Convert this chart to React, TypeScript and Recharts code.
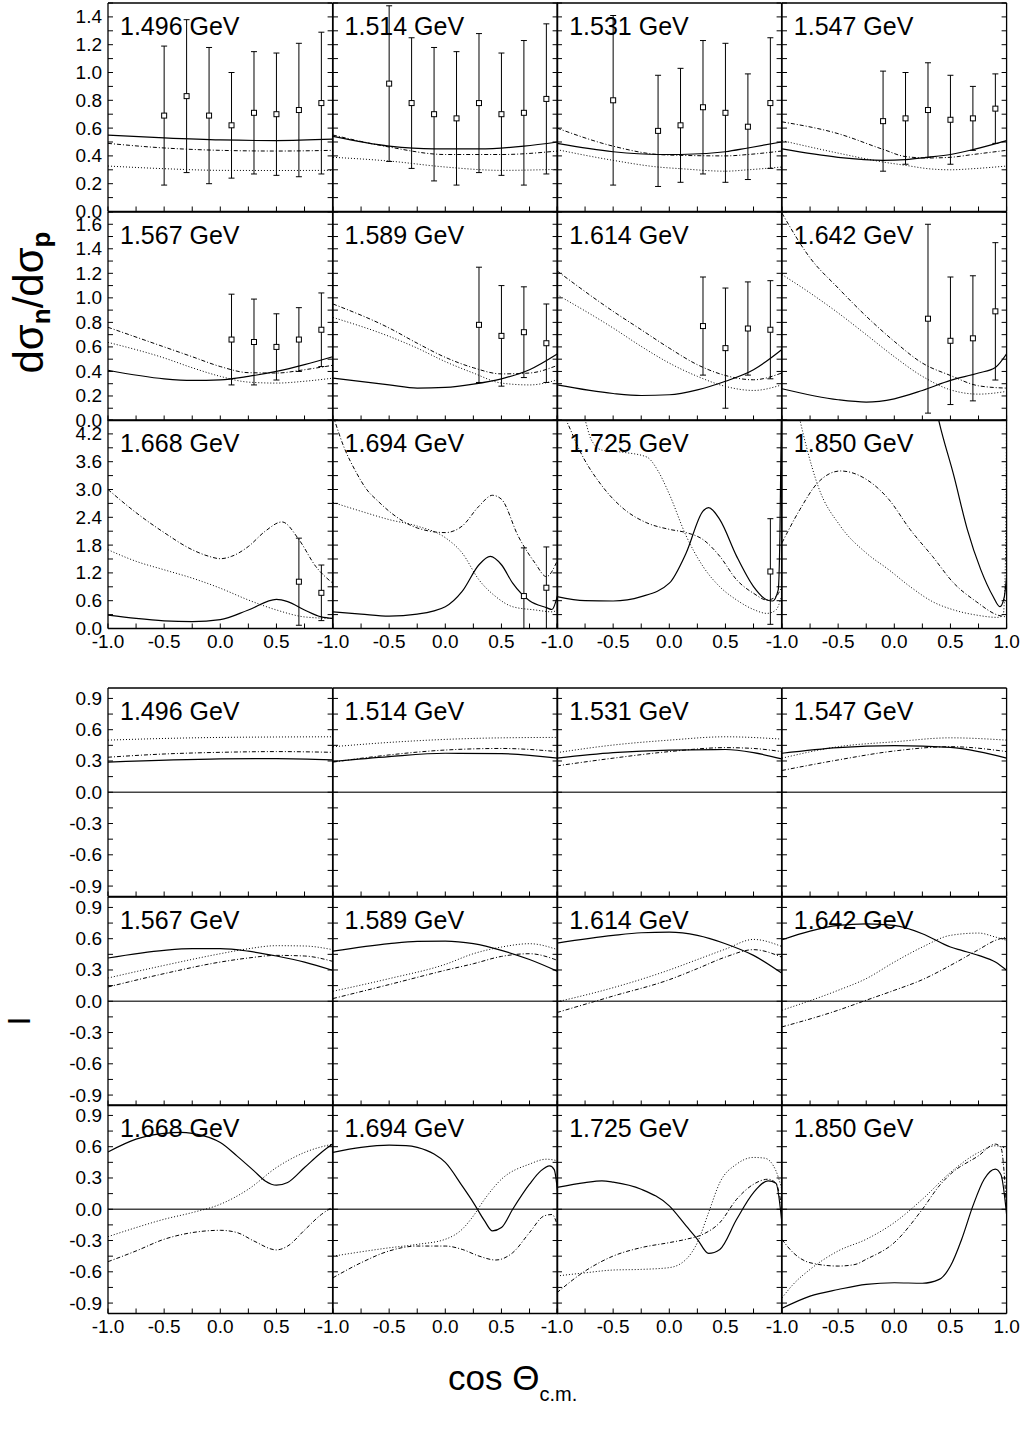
import React from 'react';
import { ComposedChart, Line, Scatter, XAxis, YAxis, ErrorBar, ReferenceLine } from 'recharts';

type Pairs = [number, number][];
type Err = number | [number, number];

// ---------- labels & ticks ----------
const ENERGIES = ['1.496', '1.514', '1.531', '1.547', '1.567', '1.589', '1.614', '1.642', '1.668', '1.694', '1.725', '1.850'];
const X_TICKS = [-1, -0.75, -0.5, -0.25, 0, 0.25, 0.5, 0.75, 1];
const X_LABELS = [-1, -0.5, 0, 0.5, 1];
const R1_TICKS = [0, 0.1, 0.2, 0.3, 0.4, 0.5, 0.6, 0.7, 0.8, 0.9, 1.0, 1.1, 1.2, 1.3, 1.4, 1.5];
const R1_LABELS = [0, 0.2, 0.4, 0.6, 0.8, 1.0, 1.2, 1.4];
const R2_TICKS = [0, 0.1, 0.2, 0.3, 0.4, 0.5, 0.6, 0.7, 0.8, 0.9, 1.0, 1.1, 1.2, 1.3, 1.4, 1.5, 1.6, 1.7];
const R2_LABELS = [0, 0.2, 0.4, 0.6, 0.8, 1.0, 1.2, 1.4, 1.6];
const R3_TICKS = [0, 0.3, 0.6, 0.9, 1.2, 1.5, 1.8, 2.1, 2.4, 2.7, 3.0, 3.3, 3.6, 3.9, 4.2, 4.5];
const R3_LABELS = [0, 0.6, 1.2, 1.8, 2.4, 3.0, 3.6, 4.2];
const A_TICKS = [-0.9, -0.75, -0.6, -0.45, -0.3, -0.15, 0, 0.15, 0.3, 0.45, 0.6, 0.75, 0.9];
const A_LABELS = [-0.9, -0.6, -0.3, 0, 0.3, 0.6, 0.9];

// ---------- dσn/dσp : model curves and data ----------
const R1496_SOLID: Pairs = [[-1, 0.55], [-0.5, 0.53], [0, 0.515], [0.5, 0.51], [1, 0.52]];
const R1496_DASHDOT: Pairs = [[-1, 0.49], [-0.5, 0.457], [0, 0.44], [0.5, 0.435], [1, 0.44]];
const R1496_DOTTED: Pairs = [[-1, 0.327], [-0.5, 0.308], [0, 0.296], [0.5, 0.295], [1, 0.296]];
const R1496_PX = [-0.5, -0.3, -0.1, 0.1, 0.3, 0.5, 0.7, 0.9];
const R1496_PY = [0.69, 0.83, 0.69, 0.62, 0.71, 0.7, 0.73, 0.78];
const R1496_ERR: Err[] = [0.5, 0.55, 0.49, 0.38, 0.44, 0.44, 0.48, 0.51];

const R1514_SOLID: Pairs = [[-1, 0.54], [-0.5, 0.47], [-0.1, 0.45], [0.3, 0.45], [0.7, 0.47], [1, 0.5]];
const R1514_DASHDOT: Pairs = [[-1, 0.55], [-0.5, 0.464], [0, 0.41], [0.5, 0.41], [1, 0.435]];
const R1514_DOTTED: Pairs = [[-1, 0.39], [-0.5, 0.363], [0, 0.32], [0.5, 0.296], [1, 0.303]];
const R1514_PX = [-0.5, -0.3, -0.1, 0.1, 0.3, 0.5, 0.7, 0.9];
const R1514_PY = [0.92, 0.78, 0.7, 0.67, 0.78, 0.7, 0.71, 0.81];
const R1514_ERR: Err[] = [0.56, 0.47, 0.48, 0.48, 0.5, 0.44, 0.52, 0.54];

const R1531_SOLID: Pairs = [[-1, 0.49], [-0.5, 0.43], [-0.1, 0.41], [0.1, 0.41], [0.5, 0.43], [0.7, 0.457], [1, 0.5]];
const R1531_DASHDOT: Pairs = [[-1, 0.6], [-0.5, 0.47], [-0.1, 0.41], [0.1, 0.404], [0.5, 0.4], [0.7, 0.41], [1, 0.435]];
const R1531_DOTTED: Pairs = [[-1, 0.445], [-0.5, 0.368], [-0.1, 0.32], [0.1, 0.308], [0.5, 0.29], [0.7, 0.3], [1, 0.32]];
const R1531_PX = [-0.5, -0.1, 0.1, 0.3, 0.5, 0.7, 0.9];
const R1531_PY = [0.8, 0.58, 0.62, 0.75, 0.71, 0.61, 0.78];
const R1531_ERR: Err[] = [0.61, 0.4, 0.41, 0.48, 0.5, 0.38, 0.47];

const R1547_SOLID: Pairs = [[-1, 0.45], [-0.5, 0.39], [-0.1, 0.368], [0.1, 0.373], [0.3, 0.39], [0.5, 0.41], [0.7, 0.445], [1, 0.51]];
const R1547_DASHDOT: Pairs = [[-1, 0.645], [-0.5, 0.56], [-0.1, 0.447], [0.1, 0.395], [0.3, 0.385], [0.5, 0.39], [0.7, 0.41], [1, 0.44]];
const R1547_DOTTED: Pairs = [[-1, 0.51], [-0.5, 0.42], [-0.1, 0.356], [0.1, 0.332], [0.3, 0.308], [0.5, 0.3], [0.7, 0.308], [1, 0.327]];
const R1547_PX = [-0.1, 0.1, 0.3, 0.5, 0.7, 0.9];
const R1547_PY = [0.65, 0.67, 0.73, 0.66, 0.67, 0.74];
const R1547_ERR: Err[] = [0.36, 0.33, 0.34, 0.32, 0.23, 0.25];

const R1567_SOLID: Pairs = [[-1, 0.41], [-0.5, 0.34], [-0.25, 0.327], [0, 0.332], [0.25, 0.36], [0.5, 0.4], [0.75, 0.455], [1, 0.52]];
const R1567_DASHDOT: Pairs = [[-1, 0.76], [-0.5, 0.6], [-0.25, 0.52], [0, 0.44], [0.25, 0.39], [0.5, 0.387], [0.75, 0.414], [1, 0.45]];
const R1567_DOTTED: Pairs = [[-1, 0.637], [-0.5, 0.51], [-0.25, 0.43], [0, 0.36], [0.25, 0.313], [0.5, 0.305], [0.75, 0.32], [1, 0.345]];
const R1567_PX = [0.1, 0.3, 0.5, 0.7, 0.9];
const R1567_PY = [0.66, 0.64, 0.6, 0.66, 0.74];
const R1567_ERR: Err[] = [0.37, 0.35, 0.27, 0.26, 0.3];

const R1589_SOLID: Pairs = [[-1, 0.346], [-0.5, 0.29], [-0.25, 0.264], [0, 0.27], [0.25, 0.297], [0.5, 0.34], [0.75, 0.414], [1, 0.544]];
const R1589_DASHDOT: Pairs = [[-1, 0.95], [-0.5, 0.754], [-0.25, 0.63], [0, 0.515], [0.25, 0.43], [0.5, 0.38], [0.75, 0.387], [1, 0.45]];
const R1589_DOTTED: Pairs = [[-1, 0.84], [-0.5, 0.686], [-0.25, 0.59], [0, 0.48], [0.25, 0.387], [0.5, 0.305], [0.75, 0.29], [1, 0.332]];
const R1589_PX = [0.3, 0.5, 0.7, 0.9];
const R1589_PY = [0.78, 0.69, 0.72, 0.63];
const R1589_ERR: Err[] = [0.47, 0.41, 0.37, 0.32];

const R1614_SOLID: Pairs = [[-1, 0.29], [-0.5, 0.22], [-0.25, 0.204], [0, 0.21], [0.25, 0.25], [0.5, 0.32], [0.75, 0.414], [1, 0.577]];
const R1614_DASHDOT: Pairs = [[-1, 1.22], [-0.5, 0.89], [-0.25, 0.74], [0, 0.59], [0.25, 0.455], [0.5, 0.367], [0.75, 0.332], [1, 0.387]];
const R1614_DOTTED: Pairs = [[-1, 1.026], [-0.5, 0.754], [-0.25, 0.604], [0, 0.468], [0.25, 0.36], [0.5, 0.278], [0.75, 0.245], [1, 0.29]];
const R1614_PX = [0.3, 0.5, 0.7, 0.9];
const R1614_PY = [0.77, 0.59, 0.75, 0.74];
const R1614_ERR: Err[] = [0.4, 0.49, 0.38, 0.4];

const R1642_SOLID: Pairs = [[-1, 0.259], [-0.5, 0.169], [-0.25, 0.15], [0, 0.177], [0.25, 0.245], [0.5, 0.327], [0.75, 0.387], [0.9, 0.433], [1, 0.544]];
const R1642_DASHDOT: Pairs = [[-1, 1.69], [-0.75, 1.326], [-0.5, 1.08], [-0.25, 0.85], [0, 0.645], [0.25, 0.468], [0.5, 0.367], [0.75, 0.283], [1, 0.264]];
const R1642_DOTTED: Pairs = [[-1, 1.19], [-0.75, 1.04], [-0.5, 0.877], [-0.25, 0.7], [0, 0.52], [0.25, 0.36], [0.5, 0.25], [0.75, 0.215], [1, 0.237]];
const R1642_PX = [0.3, 0.5, 0.7, 0.9];
const R1642_PY = [0.83, 0.65, 0.67, 0.89];
const R1642_ERR: Err[] = [0.77, 0.52, 0.51, 0.56];

const R1668_SOLID: Pairs = [[-1, 0.29], [-0.75, 0.217], [-0.5, 0.166], [-0.25, 0.15], [0, 0.19], [0.25, 0.4], [0.5, 0.63], [0.6, 0.58], [0.75, 0.4], [0.9, 0.25], [1, 0.217]];
const R1668_DASHDOT: Pairs = [[-1, 3.0], [-0.75, 2.5], [-0.5, 2.07], [-0.25, 1.7], [-0.1, 1.557], [0, 1.506], [0.1, 1.557], [0.25, 1.77], [0.4, 2.1], [0.55, 2.3], [0.7, 1.92], [0.85, 1.34], [1, 0.98]];
const R1668_DOTTED: Pairs = [[-1, 1.7], [-0.75, 1.45], [-0.5, 1.267], [-0.25, 1.087], [0, 0.87], [0.25, 0.615], [0.5, 0.4], [0.75, 0.25], [1, 0.217]];
const R1668_PX = [0.7, 0.9];
const R1668_PY = [1.01, 0.77];
const R1668_ERR: Err[] = [0.94, 0.6];

const R1694_SOLID: Pairs = [[-1, 0.36], [-0.75, 0.31], [-0.5, 0.267], [-0.25, 0.31], [0, 0.47], [0.15, 0.8], [0.3, 1.376], [0.4, 1.557], [0.5, 1.376], [0.6, 0.978], [0.75, 0.6], [0.9, 0.45], [0.95, 0.41], [1, 0.72]];
const R1694_DASHDOT: Pairs = [[-1, 4.6], [-0.9, 3.9], [-0.8, 3.4], [-0.7, 3.0], [-0.6, 2.75], [-0.5, 2.53], [-0.25, 2.17], [0, 2.07], [0.15, 2.21], [0.3, 2.64], [0.42, 2.875], [0.5, 2.79], [0.65, 1.99], [0.8, 1.41], [0.9, 1.12], [1, 1.48]];
const R1694_DOTTED: Pairs = [[-1, 2.72], [-0.75, 2.53], [-0.5, 2.35], [-0.25, 2.21], [0, 1.96], [0.15, 1.63], [0.3, 1.05], [0.45, 0.687], [0.6, 0.47], [0.8, 0.4], [0.95, 0.36], [1, 0.4]];
const R1694_PX = [0.7, 0.9];
const R1694_PY = [0.7, 0.88];
const R1694_ERR: Err[] = [[0.7, 1.04], [0.88, 0.88]];

const R1725_SOLID: Pairs = [[-1, 0.687], [-0.75, 0.6], [-0.5, 0.593], [-0.25, 0.687], [0, 0.978], [0.15, 1.63], [0.3, 2.535], [0.35, 2.61], [0.45, 2.35], [0.6, 1.557], [0.75, 0.905], [0.87, 0.615], [0.92, 0.593], [0.97, 0.833], [0.985, 2.0], [1, 5.0]];
const R1725_DASHDOT: Pairs = [[-1, 4.9], [-0.9, 4.4], [-0.8, 3.85], [-0.6, 3.08], [-0.4, 2.57], [-0.2, 2.28], [0, 2.14], [0.15, 2.07], [0.3, 1.92], [0.45, 1.557], [0.6, 1.05], [0.75, 0.76], [0.87, 0.615], [0.95, 0.687], [1, 0.9]];
const R1725_DOTTED: Pairs = [[-1, 5.5], [-0.85, 5.0], [-0.75, 4.5], [-0.7, 4.1], [-0.6, 3.85], [-0.4, 3.8], [-0.2, 3.7], [-0.1, 3.4], [0, 2.9], [0.15, 2.0], [0.3, 1.34], [0.45, 0.9], [0.6, 0.615], [0.75, 0.41], [0.87, 0.326], [0.95, 0.4], [1, 0.7]];
const R1725_PX = [0.9];
const R1725_PY = [1.23];
const R1725_ERR: Err[] = [1.14];

const R1850_SOLID: Pairs = [[-1, 30], [0, 11], [0.2, 7], [0.3, 5.6], [0.4, 4.45], [0.53, 3.3], [0.65, 2.14], [0.77, 1.27], [0.88, 0.69], [0.94, 0.47], [0.98, 0.69], [1, 1.12]];
const R1850_DASHDOT: Pairs = [[-1, 1.85], [-0.84, 2.57], [-0.68, 3.15], [-0.48, 3.4], [-0.25, 3.22], [-0.05, 2.79], [0.14, 2.14], [0.34, 1.557], [0.53, 0.978], [0.73, 0.58], [0.92, 0.29], [1, 0.25]];
const R1850_DOTTED: Pairs = [[-1, 6.5], [-0.9, 5.2], [-0.84, 4.5], [-0.78, 3.9], [-0.68, 3.08], [-0.48, 2.21], [-0.25, 1.63], [-0.05, 1.27], [0.14, 0.905], [0.34, 0.58], [0.53, 0.4], [0.73, 0.29], [0.92, 0.24], [0.97, 0.3], [0.99, 1.5], [1, 5]];

// ---------- I (asymmetry) : model curves ----------
const A1496_SOLID: Pairs = [[-1, 0.289], [0, 0.32], [0.5, 0.323], [1, 0.31]];
const A1496_DASHDOT: Pairs = [[-1, 0.336], [-0.5, 0.367], [0, 0.383], [0.5, 0.39], [1, 0.383]];
const A1496_DOTTED: Pairs = [[-1, 0.5], [-0.5, 0.516], [0, 0.526], [0.5, 0.53], [1, 0.532]];

const A1514_SOLID: Pairs = [[-1, 0.295], [-0.5, 0.342], [0, 0.374], [0.5, 0.37], [1, 0.327]];
const A1514_DASHDOT: Pairs = [[-1, 0.289], [-0.5, 0.358], [0, 0.405], [0.5, 0.42], [1, 0.39]];
const A1514_DOTTED: Pairs = [[-1, 0.437], [-0.5, 0.478], [0, 0.507], [0.5, 0.522], [1, 0.526]];

const A1531_SOLID: Pairs = [[-1, 0.327], [-0.5, 0.38], [0, 0.405], [0.5, 0.41], [0.75, 0.38], [1, 0.32]];
const A1531_DASHDOT: Pairs = [[-1, 0.253], [-0.5, 0.327], [0, 0.39], [0.5, 0.428], [0.75, 0.42], [1, 0.39]];
const A1531_DOTTED: Pairs = [[-1, 0.38], [-0.5, 0.453], [0, 0.5], [0.5, 0.532], [1, 0.51]];

const A1547_SOLID: Pairs = [[-1, 0.374], [-0.5, 0.428], [0, 0.447], [0.5, 0.43], [0.75, 0.39], [1, 0.327]];
const A1547_DASHDOT: Pairs = [[-1, 0.209], [-0.5, 0.31], [0, 0.396], [0.5, 0.437], [1, 0.39]];
const A1547_DOTTED: Pairs = [[-1, 0.327], [-0.5, 0.437], [0, 0.484], [0.5, 0.522], [1, 0.5]];

const A1567_SOLID: Pairs = [[-1, 0.415], [-0.5, 0.488], [-0.25, 0.504], [0, 0.504], [0.25, 0.48], [0.5, 0.434], [0.75, 0.376], [1, 0.297]];
const A1567_DASHDOT: Pairs = [[-1, 0.137], [-0.5, 0.265], [0, 0.376], [0.25, 0.415], [0.5, 0.44], [0.75, 0.434], [1, 0.383]];
const A1567_DOTTED: Pairs = [[-1, 0.223], [-0.5, 0.344], [0, 0.456], [0.25, 0.504], [0.5, 0.533], [0.75, 0.53], [1, 0.495]];

const A1589_SOLID: Pairs = [[-1, 0.48], [-0.5, 0.552], [-0.25, 0.574], [0, 0.577], [0.25, 0.552], [0.5, 0.488], [0.75, 0.4], [1, 0.287]];
const A1589_DASHDOT: Pairs = [[-1, 0.026], [-0.5, 0.16], [0, 0.297], [0.25, 0.36], [0.5, 0.43], [0.75, 0.456], [1, 0.392]];
const A1589_DOTTED: Pairs = [[-1, 0.096], [-0.5, 0.217], [0, 0.354], [0.25, 0.456], [0.5, 0.52], [0.75, 0.552], [1, 0.495]];

const A1614_SOLID: Pairs = [[-1, 0.558], [-0.5, 0.632], [-0.25, 0.657], [0, 0.663], [0.25, 0.632], [0.5, 0.552], [0.75, 0.44], [1, 0.27]];
const A1614_DASHDOT: Pairs = [[-1, -0.108], [-0.5, 0.05], [0, 0.207], [0.25, 0.313], [0.5, 0.424], [0.75, 0.495], [1, 0.424]];
const A1614_DOTTED: Pairs = [[-1, -0.006], [-0.5, 0.13], [0, 0.3], [0.25, 0.4], [0.5, 0.5], [0.75, 0.593], [1, 0.526]];

const A1642_SOLID: Pairs = [[-1, 0.59], [-0.75, 0.673], [-0.5, 0.727], [-0.25, 0.743], [0, 0.727], [0.25, 0.648], [0.5, 0.52], [0.6, 0.488], [0.75, 0.44], [0.9, 0.376], [1, 0.297]];
const A1642_DASHDOT: Pairs = [[-1, -0.246], [-0.5, -0.086], [-0.25, 0.01], [0, 0.105], [0.25, 0.207], [0.5, 0.344], [0.75, 0.495], [0.9, 0.584], [1, 0.616]];
const A1642_DOTTED: Pairs = [[-1, -0.086], [-0.5, 0.105], [-0.25, 0.217], [0, 0.376], [0.25, 0.52], [0.5, 0.632], [0.75, 0.654], [0.9, 0.616], [1, 0.584]];

const A1668_SOLID: Pairs = [[-1, 0.55], [-0.75, 0.673], [-0.5, 0.728], [-0.35, 0.737], [-0.25, 0.728], [-0.1, 0.689], [0, 0.64], [0.15, 0.51], [0.3, 0.368], [0.4, 0.272], [0.5, 0.231], [0.6, 0.257], [0.75, 0.4], [0.9, 0.545], [1, 0.625]];
const A1668_DASHDOT: Pairs = [[-1, -0.503], [-0.75, -0.4], [-0.5, -0.288], [-0.25, -0.224], [0, -0.202], [0.15, -0.224], [0.3, -0.305], [0.5, -0.39], [0.6, -0.353], [0.75, -0.2], [0.9, -0.05], [1, 0.02]];
const A1668_DOTTED: Pairs = [[-1, -0.263], [-0.75, -0.176], [-0.5, -0.096], [-0.25, -0.032], [0, 0.048], [0.25, 0.192], [0.5, 0.4], [0.75, 0.545], [1, 0.625]];

const A1694_SOLID: Pairs = [[-1, 0.545], [-0.75, 0.593], [-0.5, 0.615], [-0.35, 0.61], [-0.25, 0.593], [-0.1, 0.529], [0, 0.449], [0.15, 0.224], [0.25, 0.064], [0.35, -0.112], [0.42, -0.208], [0.5, -0.176], [0.6, 0], [0.75, 0.24], [0.85, 0.368], [0.93, 0.416], [0.97, 0.38], [1, 0.17]];
const A1694_DASHDOT: Pairs = [[-1, -0.657], [-0.75, -0.513], [-0.5, -0.4], [-0.25, -0.353], [0, -0.353], [0.15, -0.385], [0.3, -0.449], [0.45, -0.487], [0.6, -0.417], [0.75, -0.224], [0.88, -0.064], [0.95, -0.05], [1, -0.16]];
const A1694_DOTTED: Pairs = [[-1, -0.45], [-0.5, -0.37], [-0.25, -0.337], [0, -0.288], [0.15, -0.192], [0.25, -0.064], [0.35, 0.096], [0.5, 0.288], [0.75, 0.433], [0.9, 0.48], [1, 0.465]];

const A1725_SOLID: Pairs = [[-1, 0.21], [-0.75, 0.256], [-0.6, 0.272], [-0.5, 0.26], [-0.25, 0.192], [0, 0.032], [0.15, -0.16], [0.25, -0.288], [0.35, -0.423], [0.45, -0.385], [0.6, -0.096], [0.75, 0.16], [0.88, 0.272], [0.95, 0.25], [1, -0.1]];
const A1725_DASHDOT: Pairs = [[-1, -0.8], [-0.75, -0.593], [-0.5, -0.449], [-0.25, -0.368], [0, -0.32], [0.15, -0.288], [0.3, -0.24], [0.45, -0.128], [0.6, 0.096], [0.75, 0.24], [0.88, 0.288], [0.95, 0.25], [1, 0.03]];
const A1725_DOTTED: Pairs = [[-1, -0.64], [-0.75, -0.61], [-0.5, -0.583], [-0.25, -0.577], [0, -0.56], [0.15, -0.48], [0.25, -0.32], [0.35, -0.032], [0.45, 0.256], [0.6, 0.433], [0.75, 0.497], [0.85, 0.49], [0.95, 0.368], [1, 0.2]];

const A1850_SOLID: Pairs = [[-1, -0.95], [-0.75, -0.833], [-0.5, -0.77], [-0.25, -0.72], [0, -0.705], [0.25, -0.71], [0.4, -0.673], [0.5, -0.545], [0.6, -0.288], [0.7, 0.032], [0.8, 0.288], [0.9, 0.385], [0.95, 0.33], [1, -0.05]];
const A1850_DASHDOT: Pairs = [[-1, -0.29], [-0.9, -0.417], [-0.75, -0.513], [-0.5, -0.545], [-0.35, -0.53], [-0.25, -0.48], [0, -0.32], [0.25, 0], [0.4, 0.224], [0.5, 0.337], [0.75, 0.513], [0.9, 0.625], [0.95, 0.59], [1, 0.0]];
const A1850_DOTTED: Pairs = [[-1, -0.85], [-0.9, -0.72], [-0.75, -0.577], [-0.5, -0.4], [-0.25, -0.288], [0, -0.128], [0.25, 0.096], [0.5, 0.353], [0.75, 0.545], [0.9, 0.609], [0.95, 0.6], [1, 0.58]];

// ---------- tables built from the arrays ----------
type PanelCfg = { solid: Pairs; dashdot: Pairs; dotted: Pairs; px?: number[]; py?: number[]; err?: Err[] };

const RATIO_PANELS: PanelCfg[] = [
  { solid: R1496_SOLID, dashdot: R1496_DASHDOT, dotted: R1496_DOTTED, px: R1496_PX, py: R1496_PY, err: R1496_ERR },
  { solid: R1514_SOLID, dashdot: R1514_DASHDOT, dotted: R1514_DOTTED, px: R1514_PX, py: R1514_PY, err: R1514_ERR },
  { solid: R1531_SOLID, dashdot: R1531_DASHDOT, dotted: R1531_DOTTED, px: R1531_PX, py: R1531_PY, err: R1531_ERR },
  { solid: R1547_SOLID, dashdot: R1547_DASHDOT, dotted: R1547_DOTTED, px: R1547_PX, py: R1547_PY, err: R1547_ERR },
  { solid: R1567_SOLID, dashdot: R1567_DASHDOT, dotted: R1567_DOTTED, px: R1567_PX, py: R1567_PY, err: R1567_ERR },
  { solid: R1589_SOLID, dashdot: R1589_DASHDOT, dotted: R1589_DOTTED, px: R1589_PX, py: R1589_PY, err: R1589_ERR },
  { solid: R1614_SOLID, dashdot: R1614_DASHDOT, dotted: R1614_DOTTED, px: R1614_PX, py: R1614_PY, err: R1614_ERR },
  { solid: R1642_SOLID, dashdot: R1642_DASHDOT, dotted: R1642_DOTTED, px: R1642_PX, py: R1642_PY, err: R1642_ERR },
  { solid: R1668_SOLID, dashdot: R1668_DASHDOT, dotted: R1668_DOTTED, px: R1668_PX, py: R1668_PY, err: R1668_ERR },
  { solid: R1694_SOLID, dashdot: R1694_DASHDOT, dotted: R1694_DOTTED, px: R1694_PX, py: R1694_PY, err: R1694_ERR },
  { solid: R1725_SOLID, dashdot: R1725_DASHDOT, dotted: R1725_DOTTED, px: R1725_PX, py: R1725_PY, err: R1725_ERR },
  { solid: R1850_SOLID, dashdot: R1850_DASHDOT, dotted: R1850_DOTTED },
];

const ASYM_PANELS: PanelCfg[] = [
  { solid: A1496_SOLID, dashdot: A1496_DASHDOT, dotted: A1496_DOTTED },
  { solid: A1514_SOLID, dashdot: A1514_DASHDOT, dotted: A1514_DOTTED },
  { solid: A1531_SOLID, dashdot: A1531_DASHDOT, dotted: A1531_DOTTED },
  { solid: A1547_SOLID, dashdot: A1547_DASHDOT, dotted: A1547_DOTTED },
  { solid: A1567_SOLID, dashdot: A1567_DASHDOT, dotted: A1567_DOTTED },
  { solid: A1589_SOLID, dashdot: A1589_DASHDOT, dotted: A1589_DOTTED },
  { solid: A1614_SOLID, dashdot: A1614_DASHDOT, dotted: A1614_DOTTED },
  { solid: A1642_SOLID, dashdot: A1642_DASHDOT, dotted: A1642_DOTTED },
  { solid: A1668_SOLID, dashdot: A1668_DASHDOT, dotted: A1668_DOTTED },
  { solid: A1694_SOLID, dashdot: A1694_DASHDOT, dotted: A1694_DOTTED },
  { solid: A1725_SOLID, dashdot: A1725_DASHDOT, dotted: A1725_DOTTED },
  { solid: A1850_SOLID, dashdot: A1850_DASHDOT, dotted: A1850_DOTTED },
];

type RowCfg = { domain: [number, number]; ticks: number[]; labels: number[] };
const RATIO_ROWS: RowCfg[] = [
  { domain: [0, 1.5], ticks: R1_TICKS, labels: R1_LABELS },
  { domain: [0, 1.7], ticks: R2_TICKS, labels: R2_LABELS },
  { domain: [0, 4.5], ticks: R3_TICKS, labels: R3_LABELS },
];
const ASYM_ROWS: RowCfg[] = [
  { domain: [-1, 1], ticks: A_TICKS, labels: A_LABELS },
  { domain: [-1, 1], ticks: A_TICKS, labels: A_LABELS },
  { domain: [-1, 1], ticks: A_TICKS, labels: A_LABELS },
];

// ---------- layout ----------
const FONT = '"Liberation Sans", Arial, Helvetica, sans-serif';
const TICK_FS = 19;
const PW = 224.6;
const PH = 208.5;
const COL0 = 108;
const TOP_BLOCK = 3;
const BOTTOM_BLOCK = 688.3;
const M = 20;
const YW = 70;
const XH = 26;
const TL = 5; // inward tick length
const AXIS = { stroke: '#000', strokeWidth: 1.3 };

const toXY = (p: Pairs) => p.map(([x, y]) => ({ x, y }));
const hasVal = (arr: number[], v: number) => arr.some((a) => Math.abs(a - v) < 1e-9);

const Square = (props: any) => {
  const { cx, cy } = props;
  if (cx == null || cy == null) return null;
  return <rect x={cx - 2.5} y={cy - 2.5} width={5} height={5} fill="#fff" stroke="#000" strokeWidth={1} />;
};

// custom tick renderers: inward tick mark + optional label
const bottomTick = (labels: number[] | null, col: number) => (props: any) => {
  const { x, y, payload } = props;
  const v = payload.value as number;
  const showLabel = labels && hasVal(labels, v) && !(v === 1 && col < 3);
  return (
    <g>
      <line x1={x} y1={y} x2={x} y2={y - TL} stroke="#000" strokeWidth={1} />
      {showLabel && (
        <text x={x} y={y + 20} textAnchor="middle" fontSize={TICK_FS} fontFamily={FONT} fill="#000">
          {v.toFixed(1)}
        </text>
      )}
    </g>
  );
};
const topTick = (props: any) => {
  const { x, y } = props;
  return <line x1={x} y1={y} x2={x} y2={y + TL} stroke="#000" strokeWidth={1} />;
};
const leftTick = (labels: number[] | null) => (props: any) => {
  const { x, y, payload } = props;
  const v = payload.value as number;
  const showLabel = labels && hasVal(labels, v);
  return (
    <g>
      <line x1={x} y1={y} x2={x + TL} y2={y} stroke="#000" strokeWidth={1} />
      {showLabel && (
        <text x={x - 6} y={y + 6.5} textAnchor="end" fontSize={TICK_FS} fontFamily={FONT} fill="#000">
          {v.toFixed(1)}
        </text>
      )}
    </g>
  );
};
const rightTick = (props: any) => {
  const { x, y } = props;
  return <line x1={x} y1={y} x2={x - TL} y2={y} stroke="#000" strokeWidth={1} />;
};

function Panel({ blockTop, row, col, cfg, rowCfg, zero }: { blockTop: number; row: number; col: number; cfg: PanelCfg; rowCfg: RowCfg; zero: boolean }) {
  const lastRow = row === 2;
  const firstCol = col === 0;
  const plotLeft = COL0 + col * PW;
  const plotTop = blockTop + row * PH;
  const extraL = firstCol ? YW : 0;
  const extraB = lastRow ? XH : 0;
  const width = PW + 2 * M + extraL;
  const height = PH + 2 * M + extraB;
  const pts = cfg.px ? cfg.px.map((x, i) => ({ x, y: cfg.py![i], e: cfg.err![i] })) : null;
  return (
    <div style={{ position: 'absolute', left: plotLeft - M - extraL, top: plotTop - M, width, height }}>
      <ComposedChart width={width} height={height} margin={{ top: M, right: M, bottom: M + extraB, left: M + extraL }}>
        <XAxis xAxisId="x" dataKey="x" type="number" domain={[-1, 1]} allowDataOverflow ticks={X_TICKS} orientation="bottom" mirror tickSize={0} tickMargin={0} axisLine={AXIS} tickLine={false} interval={0} tick={bottomTick(lastRow ? X_LABELS : null, col)} />
        <XAxis xAxisId="xt" type="number" domain={[-1, 1]} allowDataOverflow ticks={X_TICKS} orientation="top" mirror tickSize={0} tickMargin={0} axisLine={AXIS} tickLine={false} interval={0} tick={topTick} />
        <YAxis yAxisId="y" type="number" domain={rowCfg.domain} allowDataOverflow ticks={rowCfg.ticks} orientation="left" mirror tickSize={0} tickMargin={0} axisLine={AXIS} tickLine={false} interval={0} tick={leftTick(firstCol ? rowCfg.labels : null)} />
        <YAxis yAxisId="yr" type="number" domain={rowCfg.domain} allowDataOverflow ticks={rowCfg.ticks} orientation="right" mirror tickSize={0} tickMargin={0} axisLine={AXIS} tickLine={false} interval={0} tick={rightTick} />
        {zero && <ReferenceLine xAxisId="x" yAxisId="y" y={0} stroke="#444" strokeWidth={1.6} />}
        <Line xAxisId="x" yAxisId="y" data={toXY(cfg.solid)} dataKey="y" type="monotone" dot={false} activeDot={false} stroke="#000" strokeWidth={1.2} isAnimationActive={false} />
        <Line xAxisId="x" yAxisId="y" data={toXY(cfg.dashdot)} dataKey="y" type="monotone" dot={false} activeDot={false} stroke="#000" strokeWidth={1} strokeDasharray="4 2 1 2" isAnimationActive={false} />
        <Line xAxisId="x" yAxisId="y" data={toXY(cfg.dotted)} dataKey="y" type="monotone" dot={false} activeDot={false} stroke="#000" strokeWidth={1} strokeDasharray="1 2" isAnimationActive={false} />
        {pts && (
          <Scatter xAxisId="x" yAxisId="y" data={pts} dataKey="y" shape={Square} isAnimationActive={false}>
            <ErrorBar dataKey="e" direction="y" width={3} stroke="#000" strokeWidth={1} />
          </Scatter>
        )}
      </ComposedChart>
    </div>
  );
}

export default function App() {
  const panels: React.ReactNode[] = [];
  const labels: React.ReactNode[] = [];
  [0, 1].forEach((block) => {
    const blockTop = block === 0 ? TOP_BLOCK : BOTTOM_BLOCK;
    const list = block === 0 ? RATIO_PANELS : ASYM_PANELS;
    const rows = block === 0 ? RATIO_ROWS : ASYM_ROWS;
    list.forEach((cfg, i) => {
      const row = Math.floor(i / 4);
      const col = i % 4;
      panels.push(<Panel key={`${block}-${i}`} blockTop={blockTop} row={row} col={col} cfg={cfg} rowCfg={rows[row]} zero={block === 1} />);
      labels.push(
        <text key={`l${block}-${i}`} x={COL0 + col * PW + 12} y={blockTop + row * PH + 32} fontSize={25} fontFamily={FONT} fill="#000">
          {ENERGIES[i]} GeV
        </text>
      );
    });
  });
  return (
    <div style={{ position: 'absolute', left: 0, top: 0, width: 1024, height: 1439, background: '#fff', overflow: 'hidden' }}>
      <style>{'.recharts-surface{overflow:visible}'}</style>
      {panels}
      <svg width={1024} height={1439} style={{ position: 'absolute', left: 0, top: 0, pointerEvents: 'none' }}>
        {labels}
        <text transform="translate(43.3, 302.5) rotate(-90)" textAnchor="middle" fontSize={42} fontFamily={FONT} fill="#000">
          dσ<tspan fontSize={26} fontWeight="bold" dy={7}>n</tspan>
          <tspan dy={-7}>/dσ</tspan>
          <tspan fontSize={26} fontWeight="bold" dy={7}>p</tspan>
        </text>
        <text transform="translate(29.5, 1021) rotate(-90)" textAnchor="middle" fontSize={32} fontFamily={FONT} fill="#000">
          I
        </text>
        <text x={448} y={1390} fontSize={35} fontFamily={FONT} fill="#000">
          cos Θ<tspan fontSize={20} dy={11}>c.m.</tspan>
        </text>
      </svg>
    </div>
  );
}
